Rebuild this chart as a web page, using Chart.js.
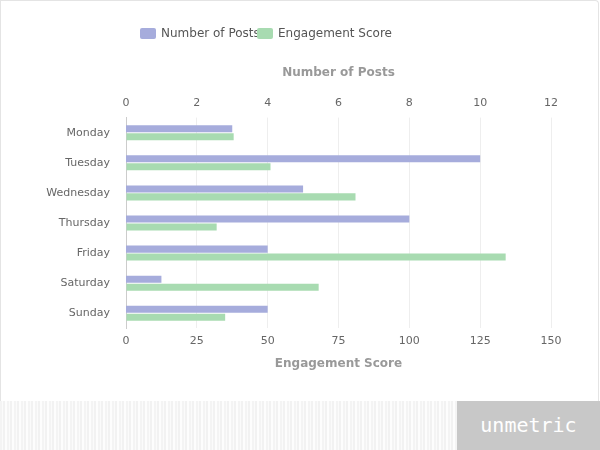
<!DOCTYPE html>
<html>
<head>
<meta charset="utf-8">
<script src="https://cdn.jsdelivr.net/npm/chart.js@4.4.1/dist/chart.umd.min.js"></script>
<style>
    body { margin: 0; width: 600px; height: 450px; overflow: hidden; background: #fff; font-family: "DejaVu Sans", sans-serif; }
    #card { position: absolute; left: 0; top: 0; width: 597px; height: 400px; border: 1px solid #e4e4e4; border-bottom: none; border-radius: 0 4px 0 0; }
    #wrap { position: absolute; left: 0; top: 0; width: 600px; height: 400px; }
    .leg { position: absolute; top: 25px; height: 16px; display: flex; align-items: center; font-size: 12px; color: #555; white-space: nowrap; }
    .leg span.box { display: inline-block; width: 16px; height: 11px; border-radius: 2px; margin-right: 5px; }
    #footer { position: absolute; left: 0; top: 401px; width: 600px; height: 49px;
        background: repeating-linear-gradient(90deg, #f4f4f4 0px, #f4f4f4 2px, #fbfbfb 2px, #fbfbfb 3px, #f2f2f2 3px, #f2f2f2 5px, #fdfdfd 5px, #fdfdfd 7px); }
    #logo { position: absolute; left: 457px; top: 401px; width: 143px; height: 49px; background: #c8c8c8; color: #fff;
        font-family: "DejaVu Sans Mono", monospace; font-size: 20px; line-height: 49px; text-align: center; }
</style>
</head>
<body>
<div id="card"></div>
<div id="wrap"><canvas id="chart"></canvas></div>
<div id="legend"></div>
<div id="footer"></div>
<div id="logo">unmetric</div>
<script>
// chart data
const days = ['Monday', 'Tuesday', 'Wednesday', 'Thursday', 'Friday', 'Saturday', 'Sunday'];
const posts = [3, 10, 5, 8, 4, 1, 4];
const engagement = [38, 51, 81, 32, 134, 68, 35];
const postTicks = [0, 2, 4, 6, 8, 10, 12];
const scoreTicks = [0, 25, 50, 75, 100, 125, 150];

const purple = '#a6acdc';
const green = '#a8dbb1';

Chart.defaults.font.family = '"DejaVu Sans", sans-serif';
Chart.defaults.font.size = 11;
Chart.defaults.color = '#666';

const titleFont = { size: 12, weight: 'bold' };

const chart = new Chart(document.getElementById('chart'), {
    type: 'bar',
    data: {
        labels: days,
        datasets: [{
            label: 'Number of Posts',
            data: posts,
            backgroundColor: purple,
            xAxisID: 'x1',
            categoryPercentage: 0.53,
            barPercentage: 0.88
        }, {
            label: 'Engagement Score',
            data: engagement,
            backgroundColor: green,
            xAxisID: 'x',
            categoryPercentage: 0.53,
            barPercentage: 0.88
        }]
    },
    options: {
        indexAxis: 'y',
        responsive: true,
        maintainAspectRatio: false,
        animation: false,
        layout: { padding: { top: 55, right: 49, bottom: 18, left: 0 } },
        plugins: {
            legend: { display: false },
            tooltip: { enabled: false }
        },
        scales: {
            x: {
                position: 'bottom',
                min: 0,
                max: 150,
                afterBuildTicks: s => { s.ticks = scoreTicks.map(v => ({ value: v })); },
                grid: { color: '#eeeeee', drawTicks: false },
                border: { display: false },
                ticks: { padding: 6, color: '#666' },
                title: { display: true, text: 'Engagement Score', color: '#999', font: titleFont, padding: { top: 3, bottom: 11 } }
            },
            x1: {
                position: 'top',
                min: 0,
                max: 12,
                afterBuildTicks: s => { s.ticks = postTicks.map(v => ({ value: v })); },
                grid: { display: false, drawTicks: false },
                border: { display: false },
                ticks: { padding: 8, color: '#666' },
                title: { display: true, text: 'Number of Posts', color: '#999', font: titleFont, padding: { top: 11, bottom: 8 } }
            },
            y: {
                afterFit: s => { s.width = 126; },
                grid: { display: false, drawTicks: false },
                border: { color: '#cccccc' },
                ticks: { padding: 16, color: '#666' }
            }
        }
    }
});

// html legend built from the datasets
const legendPos = [140, 257];
chart.data.datasets.forEach((ds, i) => {
    const item = document.createElement('div');
    item.className = 'leg';
    item.style.left = legendPos[i] + 'px';
    item.innerHTML = '<span class="box" style="background:' + ds.backgroundColor + '"></span>' + ds.label;
    document.getElementById('legend').appendChild(item);
});
</script>
</body>
</html>
